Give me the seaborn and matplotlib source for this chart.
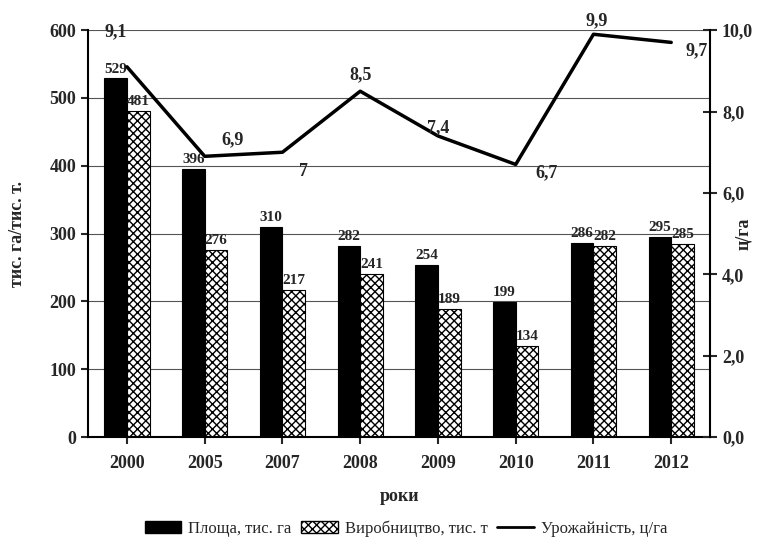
import pandas as pd
import matplotlib.pyplot as plt
import seaborn as sns

# Data
years = ['2000', '2005', '2007', '2008', '2009', '2010', '2011', '2012']
area = [529, 396, 310, 282, 254, 199, 286, 295]          # Площа, тис. га
production = [481, 276, 217, 241, 189, 134, 282, 285]    # Виробництво, тис. т
yield_ = [9.1, 6.9, 7.0, 8.5, 7.4, 6.7, 9.9, 9.7]        # Урожайність, ц/га
yield_labels = ['9,1', '6,9', '7', '8,5', '7,4', '6,7', '9,9', '9,7']

area_name = 'Площа, тис. га'
prod_name = 'Виробництво, тис. т'
yield_name = 'Урожайність, ц/га'

df = pd.DataFrame({
    'year': years * 2,
    'value': area + production,
    'series': [area_name] * len(years) + [prod_name] * len(years),
})

sns.set_style('white')
plt.rcParams['font.family'] = ['Liberation Serif', 'DejaVu Serif']
plt.rcParams['hatch.linewidth'] = 1.0

fig = plt.figure(figsize=(7.66, 5.49), dpi=100)
ax = fig.add_axes([0.115, 0.204, 0.812, 0.741])

sns.barplot(data=df, x='year', y='value', hue='series', order=years,
            hue_order=[area_name, prod_name], palette=['black', 'white'],
            width=0.58, edgecolor='black', linewidth=0.8, ax=ax, legend=False)

# hatch production bars
for bar in ax.containers[1]:
    bar.set_hatch('xxxx')

for i, cont in enumerate(ax.containers):
    labels = area if i == 0 else production
    ax.bar_label(cont, labels=[str(v) for v in labels], padding=2,
                 fontsize=11, fontweight='bold')

ax.set_ylim(0, 600)
ax.set_xlim(-0.5, 7.5)
ax.set_yticks(range(0, 601, 100))
ax.yaxis.grid(True, color='#555555', linewidth=0.8)
ax.set_axisbelow(True)
ax.set_xlabel('роки', fontsize=13, fontweight='bold')
ax.xaxis.set_label_coords(0.5, -0.125)
ax.set_ylabel('тис. га/тис. т.', fontsize=13, fontweight='bold')
ax.yaxis.set_label_coords(-0.1, 0.5)
ax.tick_params(axis='both', labelsize=13, direction='out', length=5, width=1.5,
               left=True, bottom=True)
ax.tick_params(axis='x', pad=8)
for lab in ax.get_xticklabels() + ax.get_yticklabels():
    lab.set_fontweight('bold')
for side in ['left', 'bottom']:
    ax.spines[side].set_linewidth(1.5)
    ax.spines[side].set_color('black')
ax.spines['top'].set_visible(False)
ax.spines['right'].set_visible(False)

# yield line on the right axis
ax2 = ax.twinx()
sns.lineplot(x=list(range(len(years))), y=yield_, color='black', linewidth=2.5,
             ax=ax2, legend=False)
ax2.set_ylim(0, 10)
ax2.set_yticks(range(0, 11, 2))
ax2.set_yticklabels([f'{v},0' for v in range(0, 11, 2)])
ax2.set_ylabel('ц/га', fontsize=13, fontweight='bold')
ax2.yaxis.set_label_coords(1.04, 0.5)
ax2.tick_params(axis='y', labelsize=13, direction='inout', length=10, width=1.5)
for lab in ax2.get_yticklabels():
    lab.set_fontweight('bold')
ax2.spines['right'].set_linewidth(1.5)
ax2.spines['right'].set_color('black')
for side in ['top', 'left', 'bottom']:
    ax2.spines[side].set_visible(False)

offsets = [(-8, 25), (20, 12), (15, -14), (0, 12), (0, 6), (22, -6), (2, 10), (18, -6)]
for i, (v, t) in enumerate(zip(yield_, yield_labels)):
    ax2.annotate(t, (i, v), xytext=offsets[i], textcoords='offset points',
                 ha='center', va='center', fontsize=13, fontweight='bold')

# legend
handles = [
    plt.Rectangle((0, 0), 1, 1, facecolor='black', edgecolor='black'),
    plt.Rectangle((0, 0), 1, 1, facecolor='white', edgecolor='black', hatch='xxxx'),
    plt.Line2D([0], [0], color='black', linewidth=2),
]
fig.legend(handles, [area_name, prod_name, yield_name], loc='lower center',
           bbox_to_anchor=(0.53, -0.005), ncol=3, frameon=False, fontsize=12,
           handlelength=2.2, handletextpad=0.4, columnspacing=0.6)

fig.savefig('out.png', dpi=100)
